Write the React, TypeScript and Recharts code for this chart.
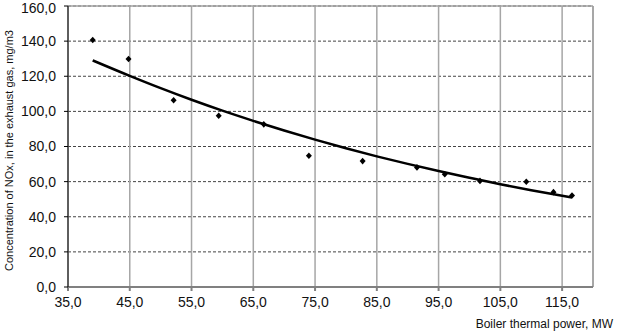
import React from "react";
import {
  ComposedChart,
  Scatter,
  Line,
  XAxis,
  YAxis,
  CartesianGrid,
  ReferenceLine,
} from "recharts";

// measured points (boiler power MW, NOx mg/m3)
const powerMW = [39.0, 44.8, 52.1, 59.4, 66.7, 74.0, 82.7, 91.5, 96.0, 101.7, 109.2, 113.6, 116.6];
const noxValues = [140.6, 129.8, 106.3, 97.5, 92.6, 74.7, 71.7, 68.1, 64.2, 60.4, 59.9, 54.0, 52.1];

// trend curve
const trendX = [39.0, 45, 50, 55, 60, 65, 70, 75, 80, 85, 90, 95, 100, 105, 110, 116.6];
const trendY = [129.0, 120.2, 113.2, 106.6, 100.4, 94.6, 89.1, 83.9, 79.0, 74.4, 70.1, 66.0, 62.2, 58.5, 55.1, 51.0];

const xTicks = [35, 45, 55, 65, 75, 85, 95, 105, 115];
const yTicks = [0, 20, 40, 60, 80, 100, 120, 140, 160];

const points = powerMW.map((x, i) => ({ x, y: noxValues[i] }));
const trend = trendX.map((x, i) => ({ x, t: trendY[i] }));

const fmt = (v: number) => v.toFixed(1).replace(".", ",");

const font = "'Liberation Sans', Arial, sans-serif";

// small black diamond marker
const Diamond = (props: any) => {
  const { cx, cy } = props;
  if (cx == null || cy == null) return null;
  return (
    <polygon
      points={`${cx},${cy - 3.3} ${cx + 3},${cy} ${cx},${cy + 3.3} ${cx - 3},${cy}`}
      fill="#000"
    />
  );
};

export default function App() {
  return (
    <div style={{ position: "absolute", left: 0, top: 0, width: 617, height: 331, background: "#fff" }}>
      <ComposedChart
        width={617}
        height={331}
        margin={{ top: 6, right: 24, left: 0, bottom: 0 }}
        style={{ fontFamily: font }}
      >
        <CartesianGrid vertical={false} stroke="#444" strokeDasharray="3 2" />
        <CartesianGrid horizontal={false} stroke="#a6a6a6" strokeWidth={1.5} />
        <ReferenceLine y={160} stroke="#a0a0a0" strokeWidth={1.5} />
        <ReferenceLine x={120} stroke="#a0a0a0" strokeWidth={1.5} />
        <XAxis
          type="number"
          dataKey="x"
          domain={[35, 120]}
          ticks={xTicks}
          allowDataOverflow
          tickFormatter={fmt}
          stroke="#808080"
          strokeWidth={2}
          tickSize={4}
          tickMargin={6}
          height={44}
          tick={{ fill: "#111", fontSize: 14 }}
          label={{
            value: "Boiler thermal power, MW",
            position: "insideBottomRight",
            offset: 0,
            dx: 20,
            dy: -3,
            fill: "#111",
            fontSize: 12,
          }}
        />
        <YAxis
          type="number"
          domain={[0, 160]}
          ticks={yTicks}
          tickFormatter={fmt}
          stroke="#000"
          tickSize={4}
          tickMargin={8}
          width={68}
          tick={{ fill: "#111", fontSize: 14 }}
          label={{
            value: "Concentration of NOx,  in the exhaust gas,  mg/m3",
            angle: -90,
            position: "insideLeft",
            offset: 0,
            dx: 9,
            dy: 4,
            fill: "#111",
            fontSize: 11,
            style: { textAnchor: "middle" },
          }}
        />
        <Line
          data={trend}
          dataKey="t"
          type="monotone"
          stroke="#000"
          strokeWidth={2.5}
          dot={false}
          isAnimationActive={false}
        />
        <Scatter
          data={points}
          dataKey="y"
          fill="#000"
          shape={<Diamond />}
          legendType="none"
          isAnimationActive={false}
        />
      </ComposedChart>
    </div>
  );
}
